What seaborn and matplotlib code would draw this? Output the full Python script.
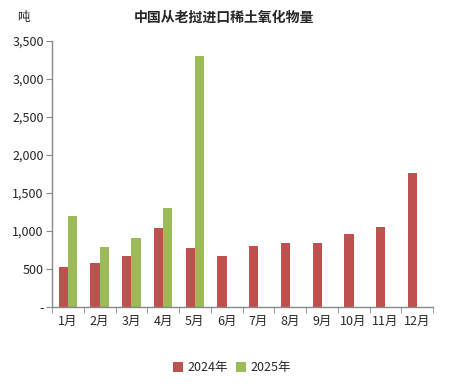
import matplotlib
matplotlib.use("Agg")
import matplotlib.pyplot as plt
import seaborn as sns
import pandas as pd
import numpy as np
from matplotlib.ticker import FuncFormatter, FixedLocator

months = ["1月", "2月", "3月", "4月", "5月", "6月", "7月", "8月", "9月", "10月", "11月", "12月"]
v2024 = [530, 580, 670, 1040, 780, 670, 805, 845, 845, 965, 1055, 1765]
v2025 = [1200, 790, 910, 1305, 3305, None, None, None, None, None, None, None]
series = ["2024年", "2025年"]
colors = ["#C0504D", "#9BBB59"]

rows = []
for m, a, b in zip(months, v2024, v2025):
    rows.append({"month": m, "year": series[0], "value": a})
    rows.append({"month": m, "year": series[1], "value": b if b is not None else np.nan})
df = pd.DataFrame(rows)

sns.set_style("white")
plt.rcParams['font.family'] = ['Noto Sans CJK SC', 'DejaVu Sans']

fig = plt.figure(figsize=(4.49, 3.90), dpi=100)
ax = fig.add_axes([52/449, 83/390, (433-52)/449, (307-41)/390])

sns.barplot(data=df, x="month", y="value", hue="year", palette=colors,
            width=0.58, ax=ax, order=months, hue_order=series, saturation=1,
            linewidth=0, edgecolor="none")

ax.set_ylim(0, 3500)
ax.set_xlim(-0.5, 11.5)
ax.set_yticks(np.arange(0, 3501, 500))
ax.yaxis.set_major_formatter(FuncFormatter(lambda v, p: "-" if v == 0 else f"{int(v):,}"))
ax.set_xlabel("")
ax.set_ylabel("")

for s in ["top", "right"]:
    ax.spines[s].set_visible(False)
for s in ["left", "bottom"]:
    ax.spines[s].set_color("#888888")
    ax.spines[s].set_linewidth(1)

ax.tick_params(axis="y", which="major", length=4, color="#888888", labelsize=9, pad=2, direction="out", left=True)
ax.tick_params(axis="x", which="major", length=0, labelsize=9, pad=6)
ax.xaxis.set_minor_locator(FixedLocator(np.arange(-0.5, 12, 1)))
ax.tick_params(axis="x", which="minor", length=4, color="#888888", direction="out", bottom=True)

leg = ax.legend(loc="center", bbox_to_anchor=((232-52)/381, -(368-307)/266), ncol=2, frameon=False,
                fontsize=9, handlelength=0.8, handleheight=0.8, handletextpad=0.4, columnspacing=0.6)

fig.text(224/449, 1 - 18/390, "中国从老挝进口稀土氧化物量", ha="center", va="center",
         fontsize=10, fontweight="bold")
fig.text(17/449, 1 - 18/390, "吨", ha="left", va="center", fontsize=9)

fig.savefig("out.png", dpi=100)
